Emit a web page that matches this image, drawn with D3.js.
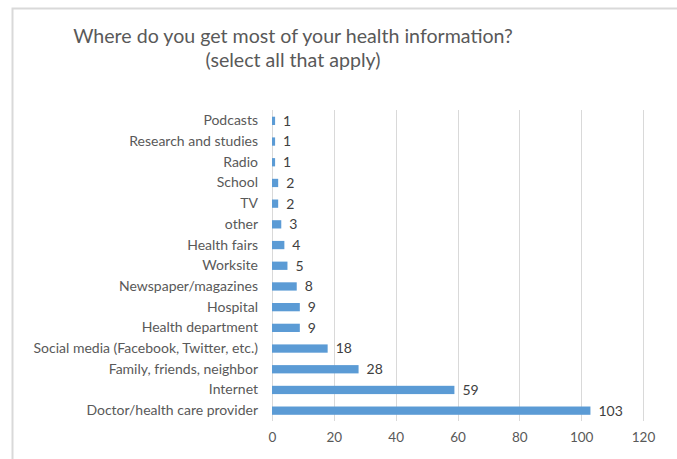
<!DOCTYPE html>
<html><head><meta charset="utf-8">
<script src="https://cdn.jsdelivr.net/npm/d3@7"></script>
<style>body{margin:0;background:#fff;} text{font-family:Lato,"Open Sans",sans-serif;}</style>
</head><body>
<svg id="c" width="677" height="459"></svg>
<script>
const categories = ["Podcasts","Research and studies","Radio","School","TV","other","Health fairs","Worksite","Newspaper/magazines","Hospital","Health department","Social media (Facebook, Twitter, etc.)","Family, friends, neighbor","Internet","Doctor/health care provider"];
const values = [1,1,1,2,2,3,4,5,8,9,9,18,28,59,103];
const ticks = [0,20,40,60,80,100,120];

const svg = d3.select("#c");
// frame
svg.append("path").attr("d","M12.5,459 L12.5,8.5 L677,8.5").attr("fill","none").attr("stroke","#d9d9d9").attr("stroke-width",2);

const x = d3.scaleLinear().domain([0,120]).range([272,643]);
const y = d3.scaleBand().domain(categories).range([110.5,421]).paddingInner(0.6).paddingOuter(0.3);

// gridlines
svg.append("g").selectAll("line").data(ticks).join("line")
  .attr("x1",d=>Math.round(x(d))+0.5).attr("x2",d=>Math.round(x(d))+0.5)
  .attr("y1",110).attr("y2",421).attr("stroke","#d9d9d9").attr("stroke-width",1);

// axis labels
const xa = svg.append("g").attr("transform","translate(0,421)").call(d3.axisBottom(x).tickValues(ticks).tickSize(0).tickPadding(11));
xa.select(".domain").remove();
xa.selectAll("text").attr("font-family","Lato, 'Open Sans', sans-serif").attr("font-size",13.5).attr("fill","#595959");

// category labels
const ya = svg.append("g").attr("transform","translate(272,0)").call(d3.axisLeft(y).tickSize(0).tickPadding(14));
ya.select(".domain").remove();
ya.selectAll("text").attr("font-family","Lato, 'Open Sans', sans-serif").attr("font-size",14).attr("fill","#595959");

// bars
svg.append("g").selectAll("rect").data(categories).join("rect")
  .attr("x",x(0)).attr("y",d=>y(d)).attr("height",y.bandwidth())
  .attr("width",(d,i)=>x(values[i])-x(0)).attr("fill","#5b9bd5");

// value labels
svg.append("g").selectAll("text").data(categories).join("text")
  .attr("x",(d,i)=>x(values[i])+8).attr("y",d=>y(d)+y.bandwidth()/2).attr("dy","0.35em")
  .attr("font-size",14).attr("fill","#404040").text((d,i)=>values[i]);

// title
const t = svg.append("text").attr("x",293).attr("text-anchor","middle").attr("font-size",19.6).attr("fill","#595959");
t.append("tspan").attr("x",293).attr("y",43).text("Where do you get most of your health information?");
t.append("tspan").attr("x",293).attr("y",67).text("(select all that apply)");
</script>
</body></html>
